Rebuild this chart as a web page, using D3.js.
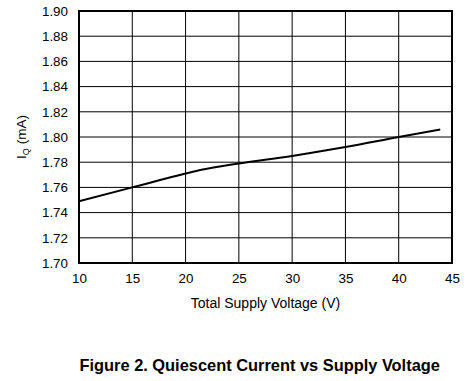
<!DOCTYPE html>
<html><head><meta charset="utf-8">
<script src="https://cdn.jsdelivr.net/npm/d3@7"></script>
<style>body{margin:0;background:#fff}svg{display:block;font-family:"Liberation Sans",Arial,sans-serif}</style>
</head><body>
<script>
const voltage = [10, 15, 20, 21.5, 25, 30, 35, 40, 43.9];
const current = [1.749, 1.760, 1.771, 1.774, 1.779, 1.785, 1.792, 1.800, 1.806];
const xTicks = [10, 15, 20, 25, 30, 35, 40, 45];
const yTicks = [1.70, 1.72, 1.74, 1.76, 1.78, 1.80, 1.82, 1.84, 1.86, 1.88, 1.90];

const W = 473, H = 381;
const m = {l: 79, t: 11, r: 452, b: 263};
const svg = d3.select("body").append("svg").attr("width", W).attr("height", H);
const x = d3.scaleLinear().domain([10, 45]).range([m.l, m.r]);
const y = d3.scaleLinear().domain([1.70, 1.90]).range([m.b, m.t]);

// grid
svg.append("g").selectAll("line").data(xTicks.slice(1, -1)).join("line")
  .attr("x1", d => x(d)).attr("x2", d => x(d)).attr("y1", m.t).attr("y2", m.b)
  .attr("stroke", "#000").attr("stroke-width", 1);
svg.append("g").selectAll("line").data(yTicks.slice(1, -1)).join("line")
  .attr("y1", d => y(d)).attr("y2", d => y(d)).attr("x1", m.l).attr("x2", m.r)
  .attr("stroke", "#000").attr("stroke-width", 1);

// axes (labels only)
const xAxis = svg.append("g").attr("transform", `translate(0,${m.b})`)
  .call(d3.axisBottom(x).tickValues(xTicks).tickSize(0).tickPadding(10).tickFormat(d3.format("d")));
const yAxis = svg.append("g").attr("transform", `translate(${m.l},0)`)
  .call(d3.axisLeft(y).tickValues(yTicks).tickSize(0).tickPadding(11).tickFormat(d3.format(".2f")));
[xAxis, yAxis].forEach(a => {
  a.select(".domain").remove();
  a.selectAll("text").attr("font-size", 13.4).attr("fill", "#000").attr("font-family", "'Liberation Sans',Arial,sans-serif");
});

// frame
svg.append("rect").attr("x", m.l).attr("y", m.t).attr("width", m.r - m.l).attr("height", m.b - m.t)
  .attr("fill", "none").attr("stroke", "#000").attr("stroke-width", 2);

// data line
svg.append("path").datum(voltage.map((v, i) => [v, current[i]]))
  .attr("d", d3.line().x(d => x(d[0])).y(d => y(d[1])).curve(d3.curveMonotoneX))
  .attr("fill", "none").attr("stroke", "#000").attr("stroke-width", 2);

// axis titles
svg.append("text").attr("x", 265.5).attr("y", 308).attr("text-anchor", "middle")
  .attr("font-size", 14).text("Total Supply Voltage (V)");
const yt = svg.append("text").attr("transform", `translate(26,${(m.t + m.b) / 2}) rotate(-90)`)
  .attr("text-anchor", "middle").attr("font-size", 13.5);
yt.append("tspan").text("I");
yt.append("tspan").attr("font-size", 9).attr("dy", 3).text("Q");
yt.append("tspan").attr("dy", -3).text(" (mA)");

// caption
svg.append("text").attr("x", 259.7).attr("y", 371).attr("text-anchor", "middle")
  .attr("font-size", 16.4).attr("font-weight", "bold").text("Figure 2. Quiescent Current vs Supply Voltage");
</script>
</body></html>
